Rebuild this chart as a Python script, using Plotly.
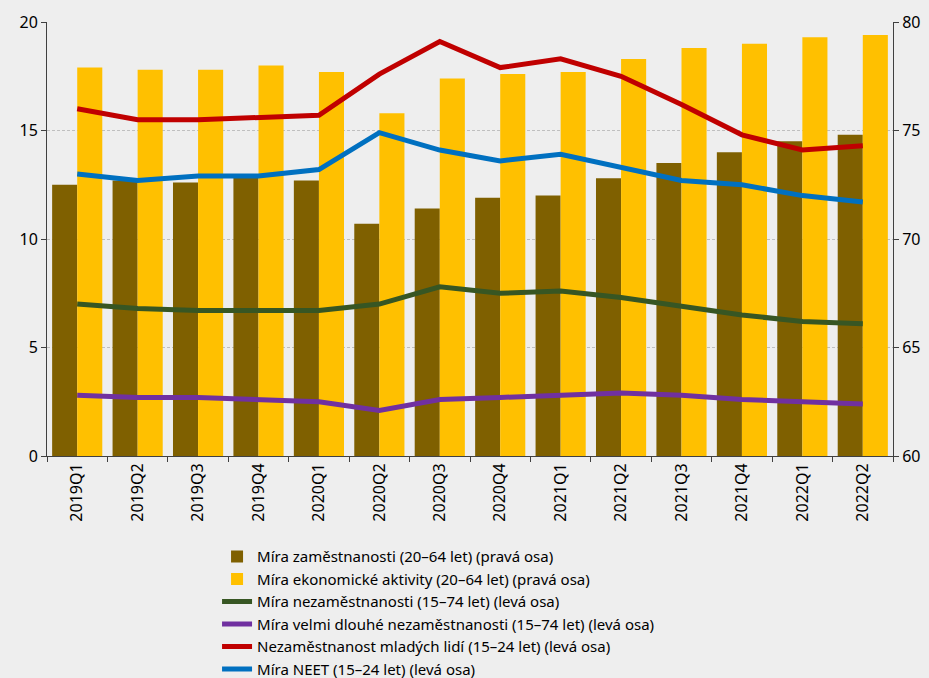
import plotly.graph_objects as go

categories = ["2019Q1", "2019Q2", "2019Q3", "2019Q4", "2020Q1", "2020Q2", "2020Q3",
              "2020Q4", "2021Q1", "2021Q2", "2021Q3", "2021Q4", "2022Q1", "2022Q2"]

zamestnanost = [72.5, 72.7, 72.6, 72.9, 72.7, 70.7, 71.4, 71.9, 72.0, 72.8, 73.5, 74.0, 74.5, 74.8]
ekon_aktivita = [77.9, 77.8, 77.8, 78.0, 77.7, 75.8, 77.4, 77.6, 77.7, 78.3, 78.8, 79.0, 79.3, 79.4]
nezamestnanost = [7.0, 6.8, 6.7, 6.7, 6.7, 7.0, 7.8, 7.5, 7.6, 7.3, 6.9, 6.5, 6.2, 6.1]
velmi_dlouha = [2.8, 2.7, 2.7, 2.6, 2.5, 2.1, 2.6, 2.7, 2.8, 2.9, 2.8, 2.6, 2.5, 2.4]
mladi = [16.0, 15.5, 15.5, 15.6, 15.7, 17.6, 19.1, 17.9, 18.3, 17.5, 16.2, 14.8, 14.1, 14.3]
neet = [13.0, 12.7, 12.9, 12.9, 13.2, 14.9, 14.1, 13.6, 13.9, 13.3, 12.7, 12.5, 12.0, 11.7]

names = [
    "Míra zaměstnanosti (20–64 let) (pravá osa)",
    "Míra ekonomické aktivity (20–64 let) (pravá osa)",
    "Míra nezaměstnanosti (15–74 let) (levá osa)",
    "Míra velmi dlouhé nezaměstnanosti (15–74 let) (levá osa)",
    "Nezaměstnanost mladých lidí (15–24 let) (levá osa)",
    "Míra NEET (15–24 let) (levá osa)",
]

fig = go.Figure()
fig.add_trace(go.Bar(x=categories, y=zamestnanost, name=names[0], marker_color="#7F6000",
                     marker_line_width=0, yaxis="y"))
fig.add_trace(go.Bar(x=categories, y=ekon_aktivita, name=names[1], marker_color="#FFC000",
                     marker_line_width=0, yaxis="y"))
line_specs = [(nezamestnanost, "#375623"), (velmi_dlouha, "#7030A0"), (mladi, "#C00000"), (neet, "#0070C0")]
for (vals, col), nm in zip(line_specs, names[2:]):
    fig.add_trace(go.Scatter(x=categories, y=vals, name=nm, mode="lines",
                             line=dict(color=col, width=5), yaxis="y2"))

axis_col = "#404040"
fig.update_layout(
    width=929, height=678,
    paper_bgcolor="#EEEEEE", plot_bgcolor="#EEEEEE",
    font=dict(family="Noto Sans, sans-serif", size=15, color="#000000"),
    margin=dict(l=47, r=36, t=22, b=222, autoexpand=False),
    barmode="group", bargap=0.17, bargroupgap=0,
    showlegend=True,
    legend=dict(x=0.201, y=-0.194, xanchor="left", yanchor="top", orientation="v",
                bgcolor="rgba(0,0,0,0)", font=dict(size=15), tracegroupgap=0,
                itemwidth=30),
    xaxis=dict(type="category", tickangle=-90, tickson="boundaries", ticks="outside",
               ticklen=5, tickcolor=axis_col, showline=True, linecolor=axis_col,
               linewidth=1, showgrid=False, tickfont=dict(size=16), automargin=False),
    yaxis=dict(side="right", range=[60, 80], dtick=5, ticks="outside", ticklen=5,
               tickcolor=axis_col, showline=True, linecolor=axis_col, linewidth=1,
               showgrid=True, gridcolor="#BFBFBF", griddash="3px,2px", gridwidth=1,
               zeroline=False, tickfont=dict(size=16), automargin=False),
    yaxis2=dict(side="left", overlaying="y", range=[0, 20], dtick=5, ticks="outside",
                ticklen=5, tickcolor=axis_col, showline=True, linecolor=axis_col,
                linewidth=1, showgrid=False, zeroline=False, tickfont=dict(size=16),
                automargin=False),
)

fig.write_html(
    "out.html",
    config={"displayModeBar": False},
    post_script="document.body.style.margin='0';document.body.style.background='#EEEEEE';",
)
